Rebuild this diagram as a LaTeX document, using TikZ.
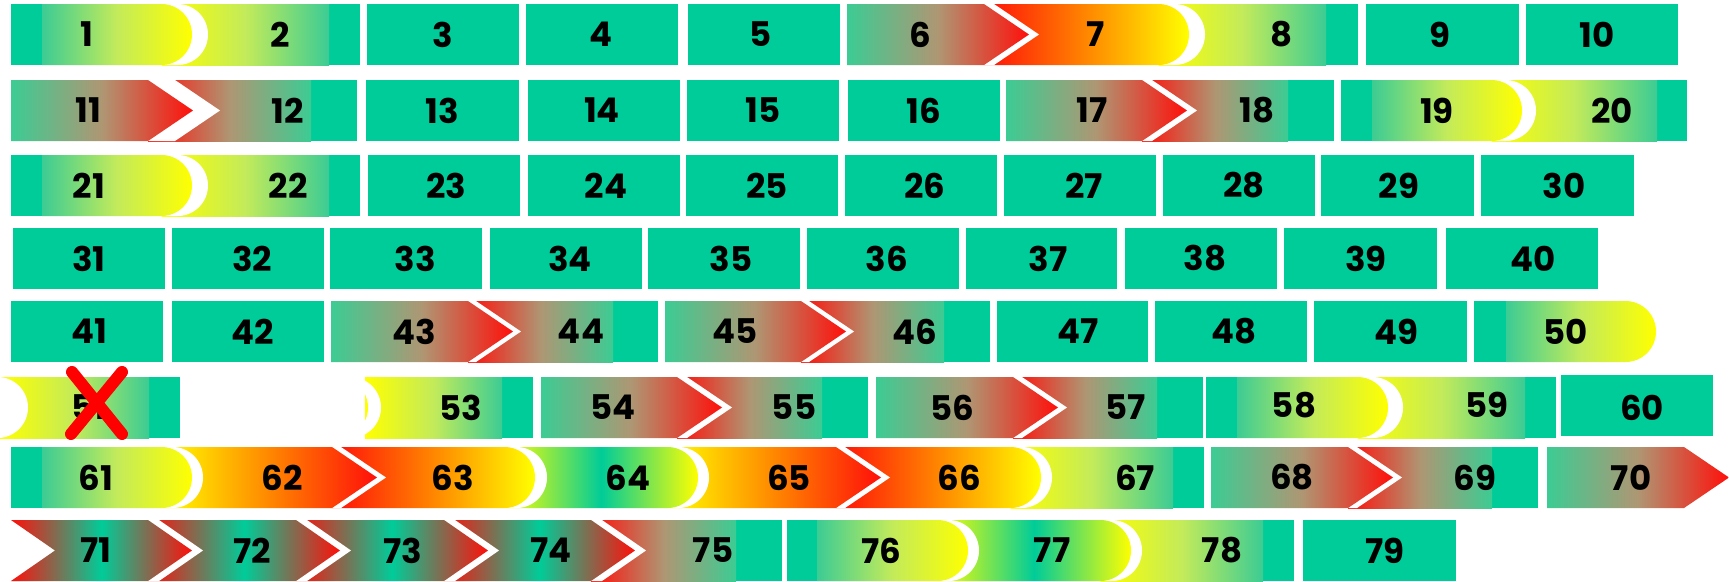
\documentclass[tikz,border=0pt]{standalone}
\usepackage{fontspec}
\setmainfont{Poppins}
\definecolor{boxgreen}{RGB}{0,204,153}
\definecolor{gstart}{RGB}{60,204,148}
\definecolor{gyel}{RGB}{255,255,0}
\definecolor{gred}{RGB}{255,15,10}
\definecolor{gorange}{RGB}{255,135,0}
\definecolor{gmid}{RGB}{175,150,115}
\definecolor{gymid}{RGB}{195,235,90}
\definecolor{xred}{RGB}{255,0,0}
\newcommand{\RectShape}[4]{\path[#1] (#2,#4) rectangle (#3,#4+61);}
\newcommand{\CapShape}[4]{\path[#1] (#2,#4) -- (#3,#4) arc[start angle=-90,end angle=90,radius=30.5] -- (#2,#4+61) -- cycle;}
\newcommand{\ArrShape}[5]{\path[#1] (#2,#4) -- (#3,#4) -- (#3+#5,#4+30.5) -- (#3,#4+61) -- (#2,#4+61) -- cycle;}
\newcommand{\NotchShape}[5]{\path[#1] (#2,#4) -- (#3,#4) -- (#3+#5,#4+30.5) -- (#3,#4+61) -- (#2,#4+61) -- (#2+#5,#4+30.5) -- cycle;}
\tikzset{
  sgreen/.style={fill=boxgreen},
  sgy/.style={left color=gstart, right color=gyel, middle color=gymid},
  syg/.style={left color=gyel, right color=gstart, middle color=gymid},
  sgr/.style={left color=gstart, right color=gred, middle color=gmid},
  srg/.style={left color=gred, right color=gstart, middle color=gmid},
  sryo/.style={left color=gred, right color=gyel, middle color=gorange},
  syor/.style={left color=gyel, right color=gred, middle color=gorange},
  sygy/.style={left color=gyel, right color=gyel, middle color=boxgreen},
  srgr/.style={left color=gred, right color=gred, middle color=boxgreen},
  lbl/.style={font=\fontsize{34}{34}\selectfont\bfseries, text=black, inner sep=0pt},
  crossline/.style={draw=xred, line width=12pt, line cap=round}
}
\begin{document}
\begin{tikzpicture}[x=1pt,y=-1pt]
\useasboundingbox (0,0) rectangle (1729,581);
\fill[white] (0,0) rectangle (1729,581);
\clip (0,0) rectangle (1729,581);
% ---------------- Row 1 (top 4)
\RectShape{sgreen}{329}{360}{4}
\RectShape{syg}{161.5}{329}{4}
\CapShape{fill=white,xshift=16pt}{42}{161.5}{4}
\CapShape{sgy}{42}{161.5}{4}
\RectShape{sgreen}{11}{42}{4}
\RectShape{sgreen}{367}{519}{4}
\RectShape{sgreen}{526}{678}{4}
\RectShape{sgreen}{688}{840}{4}
\RectShape{sgreen}{1326}{1358}{4}
\RectShape{syg}{1158.5}{1326}{4}
\CapShape{fill=white,xshift=16pt}{984}{1158.5}{4}
\CapShape{sryo}{984}{1158.5}{4}
\ArrShape{fill=white,xshift=10pt}{847}{984}{4}{45}
\ArrShape{sgr}{847}{984}{4}{45}
\RectShape{sgreen}{1366}{1519}{4}
\RectShape{sgreen}{1526}{1678}{4}
% ---------------- Row 2 (top 80)
\RectShape{sgreen}{311}{357}{80}
\RectShape{srg}{148}{311}{80}
\ArrShape{fill=white,xshift=27pt}{11}{148}{80}{45}
\ArrShape{sgr}{11}{148}{80}{45}
\RectShape{sgreen}{366}{519}{80}
\RectShape{sgreen}{528}{680}{80}
\RectShape{sgreen}{687}{839}{80}
\RectShape{sgreen}{848}{1000}{80}
\RectShape{sgreen}{1288}{1334}{80}
\RectShape{srg}{1142}{1288}{80}
\ArrShape{fill=white,xshift=10pt}{1006}{1142}{80}{45}
\ArrShape{sgr}{1006}{1142}{80}{45}
\RectShape{sgreen}{1657}{1687}{80}
\RectShape{syg}{1491.5}{1657}{80}
\CapShape{fill=white,xshift=14pt}{1372}{1491.5}{80}
\CapShape{sgy}{1372}{1491.5}{80}
\RectShape{sgreen}{1341}{1372}{80}
% ---------------- Row 3 (top 155)
\RectShape{sgreen}{329}{360}{155}
\RectShape{syg}{161.5}{329}{155}
\CapShape{fill=white,xshift=16pt}{42}{161.5}{155}
\CapShape{sgy}{42}{161.5}{155}
\RectShape{sgreen}{11}{42}{155}
\RectShape{sgreen}{368}{520}{155}
\RectShape{sgreen}{528}{680}{155}
\RectShape{sgreen}{686}{838}{155}
\RectShape{sgreen}{845}{997}{155}
\RectShape{sgreen}{1004}{1156}{155}
\RectShape{sgreen}{1163}{1315}{155}
\RectShape{sgreen}{1321}{1474}{155}
\RectShape{sgreen}{1481}{1634}{155}
% ---------------- Row 4 (top 228)
\RectShape{sgreen}{13}{165}{228}
\RectShape{sgreen}{172}{324}{228}
\RectShape{sgreen}{330}{482}{228}
\RectShape{sgreen}{490}{642}{228}
\RectShape{sgreen}{648}{800}{228}
\RectShape{sgreen}{807}{959}{228}
\RectShape{sgreen}{966}{1117}{228}
\RectShape{sgreen}{1125}{1277}{228}
\RectShape{sgreen}{1284}{1437}{228}
\RectShape{sgreen}{1446}{1598}{228}
% ---------------- Row 5 (top 301)
\RectShape{sgreen}{11}{163}{301}
\RectShape{sgreen}{172}{324}{301}
\RectShape{sgreen}{613}{658}{301}
\RectShape{srg}{468}{613}{301}
\ArrShape{fill=white,xshift=8pt}{331}{468}{301}{45}
\ArrShape{sgr}{331}{468}{301}{45}
\RectShape{sgreen}{944}{990}{301}
\RectShape{srg}{801}{944}{301}
\ArrShape{fill=white,xshift=8pt}{665}{801}{301}{45}
\ArrShape{sgr}{665}{801}{301}{45}
\RectShape{sgreen}{997}{1148}{301}
\RectShape{sgreen}{1155}{1307}{301}
\RectShape{sgreen}{1314}{1467}{301}
\CapShape{sgy}{1506}{1625.5}{301}
\RectShape{sgreen}{1474}{1506}{301}
% ---------------- Row 6 (top 377)
\RectShape{sgreen}{149}{180}{377}
\RectShape{syg}{0}{149}{377}
\fill[white] (-2.5,407.5) circle[radius=30.5];
\RectShape{sgreen}{502}{533}{377}
\RectShape{syg}{365}{502}{377}
\begin{scope}
\clip (365,377) rectangle (400,438);
\fill[white] (350.5,407.5) circle[radius=30.5];
\fill[gyel] (337.5,407.5) circle[radius=30.5];
\end{scope}
\RectShape{sgreen}{822}{868}{377}
\RectShape{srg}{677}{822}{377}
\ArrShape{fill=white,xshift=10pt}{541}{677}{377}{45}
\ArrShape{sgr}{541}{677}{377}{45}
\RectShape{sgreen}{1157}{1203}{377}
\RectShape{srg}{1013}{1157}{377}
\ArrShape{fill=white,xshift=9pt}{876}{1013}{377}{45}
\ArrShape{sgr}{876}{1013}{377}{45}
\RectShape{sgreen}{1525}{1556}{377}
\RectShape{syg}{1357.5}{1525}{377}
\CapShape{fill=white,xshift=15pt}{1237}{1357.5}{377}
\CapShape{sgy}{1237}{1357.5}{377}
\RectShape{sgreen}{1206}{1237}{377}
\RectShape{sgreen}{1561}{1713}{375}
% ---------------- Row 7 (top 447)
\RectShape{sgreen}{1173}{1204}{447}
\RectShape{syg}{1010.5}{1173}{447}
\CapShape{fill=white,xshift=11pt}{836}{1010.5}{447}
\CapShape{sryo}{836}{1010.5}{447}
\ArrShape{fill=white,xshift=9pt}{667.5}{836}{447}{45}
\ArrShape{syor}{667.5}{836}{447}{45}
\CapShape{fill=white,xshift=11pt}{504.5}{667.5}{447}
\CapShape{sygy}{504.5}{667.5}{447}
\CapShape{fill=white,xshift=12pt}{332}{504.5}{447}
\CapShape{sryo}{332}{504.5}{447}
\ArrShape{fill=white,xshift=9pt}{161.5}{332}{447}{45}
\ArrShape{syor}{161.5}{332}{447}{45}
\CapShape{fill=white,xshift=11pt}{42}{161.5}{447}
\CapShape{sgy}{42}{161.5}{447}
\RectShape{sgreen}{11}{42}{447}
\RectShape{sgreen}{1492}{1538}{447}
\RectShape{srg}{1348}{1492}{447}
\ArrShape{fill=white,xshift=9pt}{1211}{1348}{447}{45}
\ArrShape{sgr}{1211}{1348}{447}{45}
\ArrShape{sgr}{1547}{1684}{447}{45}
% ---------------- Row 8 (top 520)
\RectShape{sgreen}{736}{782}{520}
\RectShape{srg}{591}{736}{520}
\ArrShape{fill=white,xshift=11pt}{444}{591}{520}{44}
\ArrShape{srgr}{444}{591}{520}{44}
\ArrShape{fill=white,xshift=11pt}{296}{444}{520}{44}
\ArrShape{srgr}{296}{444}{520}{44}
\ArrShape{fill=white,xshift=11pt}{148}{296}{520}{44}
\ArrShape{srgr}{148}{296}{520}{44}
\ArrShape{fill=white,xshift=11pt}{11}{148}{520}{44}
\NotchShape{srgr}{11}{148}{520}{44}
\RectShape{sgreen}{1263}{1294}{520}
\RectShape{syg}{1100.5}{1263}{520}
\CapShape{fill=white,xshift=11pt}{937.5}{1100.5}{520}
\CapShape{sygy}{937.5}{1100.5}{520}
\CapShape{fill=white,xshift=11pt}{817}{937.5}{520}
\CapShape{sgy}{817}{937.5}{520}
\RectShape{sgreen}{787}{817}{520}
\RectShape{sgreen}{1303}{1456}{520}
% ---------------- Labels
\node[lbl] (n1) at (87,34.5) {1};
\node[lbl] (n2) at (280,34.5) {2};
\node[lbl] (n3) at (443,34.5) {3};
\node[lbl] (n4) at (601,34.5) {4};
\node[lbl] (n5) at (761,34.5) {5};
\node[lbl] (n6) at (920,34.5) {6};
\node[lbl] (n7) at (1096,34.5) {7};
\node[lbl] (n8) at (1281,34.5) {8};
\node[lbl] (n9) at (1440,34.5) {9};
\node[lbl] (n10) at (1597,34.5) {10};
\node[lbl] (n11) at (88,110.5) {11};
\node[lbl] (n12) at (288,110.5) {12};
\node[lbl] (n13) at (442,110.5) {13};
\node[lbl] (n14) at (602,110.5) {14};
\node[lbl] (n15) at (763,110.5) {15};
\node[lbl] (n16) at (924,110.5) {16};
\node[lbl] (n17) at (1092,110.5) {17};
\node[lbl] (n18) at (1257,110.5) {18};
\node[lbl] (n19) at (1437,110.5) {19};
\node[lbl] (n20) at (1612,110.5) {20};
\node[lbl] (n21) at (89,185.5) {21};
\node[lbl] (n22) at (288,185.5) {22};
\node[lbl] (n23) at (446,185.5) {23};
\node[lbl] (n24) at (606,185.5) {24};
\node[lbl] (n25) at (767,185.5) {25};
\node[lbl] (n26) at (925,185.5) {26};
\node[lbl] (n27) at (1084,185.5) {27};
\node[lbl] (n28) at (1244,185.5) {28};
\node[lbl] (n29) at (1399,185.5) {29};
\node[lbl] (n30) at (1564,185.5) {30};
\node[lbl] (n31) at (89,258.5) {31};
\node[lbl] (n32) at (252,258.5) {32};
\node[lbl] (n33) at (415,258.5) {33};
\node[lbl] (n34) at (570,258.5) {34};
\node[lbl] (n35) at (731,258.5) {35};
\node[lbl] (n36) at (887,258.5) {36};
\node[lbl] (n37) at (1048,258.5) {37};
\node[lbl] (n38) at (1205,258.5) {38};
\node[lbl] (n39) at (1366,258.5) {39};
\node[lbl] (n40) at (1533,258.5) {40};
\node[lbl] (n41) at (89,331.5) {41};
\node[lbl] (n42) at (253,331.5) {42};
\node[lbl] (n43) at (414,331.5) {43};
\node[lbl] (n44) at (581,331.5) {44};
\node[lbl] (n45) at (735,331.5) {45};
\node[lbl] (n46) at (915,331.5) {46};
\node[lbl] (n47) at (1078,331.5) {47};
\node[lbl] (n48) at (1234,331.5) {48};
\node[lbl] (n49) at (1396,331.5) {49};
\node[lbl] (n50) at (1566,331.5) {50};
\node[lbl] (n51) at (89,407.5) {51};
\node[lbl] (n53) at (461,407.5) {53};
\node[lbl] (n54) at (613,407.5) {54};
\node[lbl] (n55) at (794,407.5) {55};
\node[lbl] (n56) at (952,407.5) {56};
\node[lbl] (n57) at (1126,407.5) {57};
\node[lbl] (n58) at (1294,405) {58};
\node[lbl] (n59) at (1487,405) {59};
\node[lbl] (n60) at (1642,407.5) {60};
\node[lbl] (n61) at (96,477.5) {61};
\node[lbl] (n62) at (282,477.5) {62};
\node[lbl] (n63) at (453,477.5) {63};
\node[lbl] (n64) at (628,477.5) {64};
\node[lbl] (n65) at (789,477.5) {65};
\node[lbl] (n66) at (959,477.5) {66};
\node[lbl] (n67) at (1135,477.5) {67};
\node[lbl] (n68) at (1292,477.5) {68};
\node[lbl] (n69) at (1475,477.5) {69};
\node[lbl] (n70) at (1631,477.5) {70};
\node[lbl] (n71) at (96,550.5) {71};
\node[lbl] (n72) at (252,550.5) {72};
\node[lbl] (n73) at (403,550.5) {73};
\node[lbl] (n74) at (551,550.5) {74};
\node[lbl] (n75) at (713,550.5) {75};
\node[lbl] (n76) at (881,550.5) {76};
\node[lbl] (n77) at (1052,550.5) {77};
\node[lbl] (n78) at (1222,550.5) {78};
\node[lbl] (n79) at (1385,550.5) {79};
% ---------------- Cross over 51
\path[crossline] (72,372) -- (122,434);
\path[crossline] (122,372) -- (71,434);
\end{tikzpicture}
\end{document}
